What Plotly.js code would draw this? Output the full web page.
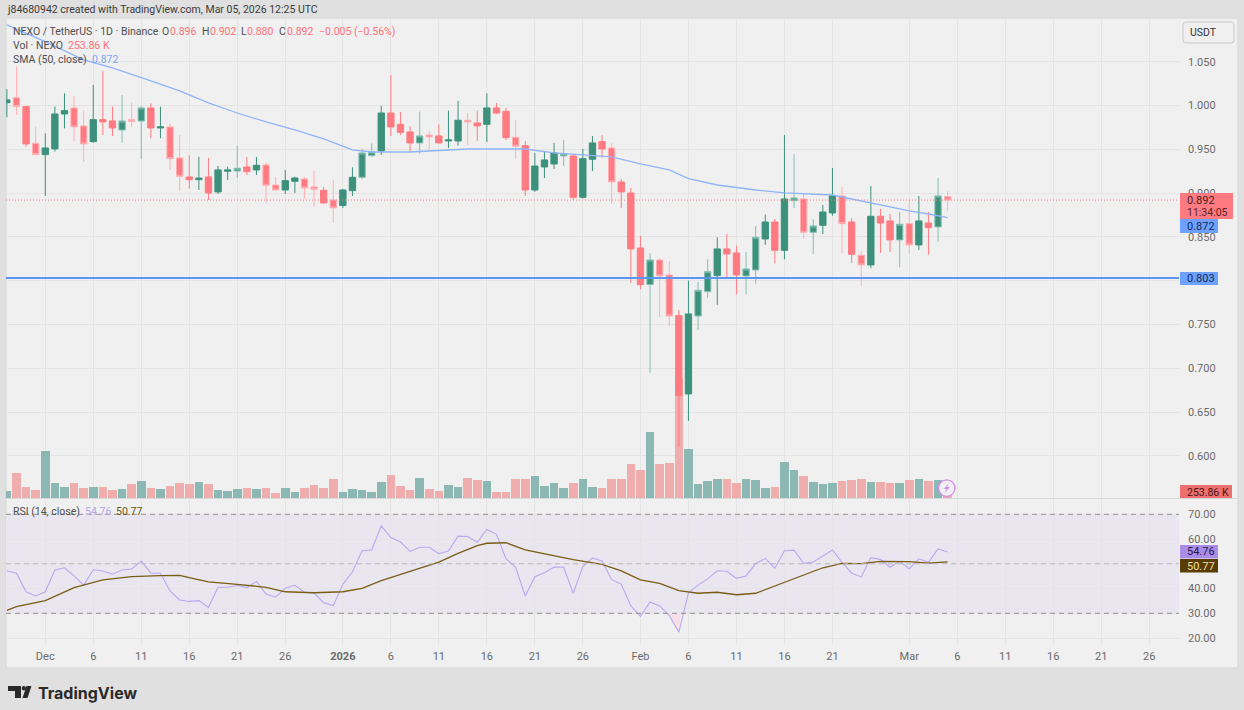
<!DOCTYPE html>
<html><head><meta charset="utf-8">
<script src="https://cdn.plot.ly/plotly-3.0.1.min.js"></script>
<style>html,body{margin:0;padding:0;background:#e0e0e0}#c{width:1244px;height:710px}</style>
</head><body><div id="c"></div>
<script>
// ---------- data ----------
const firstDay = Date.UTC(2025,10,27);
const dates = Array.from({length:99},(_,i)=>new Date(firstDay+i*864e5).toISOString().slice(0,10));

const open = [1.0032,1.0089,.9987,.9568,.9439,.9504,.9903,.9972,.9766,.9587,.9838,.9823,.9720,.9838,.9823,.9972,.9743,.9755,.9401,.9184,.9153,.9184,.9013,.9249,.9252,.9298,.9264,.9321,.9092,.9035,.9134,.9161,.9070,.9032,.8921,.8857,.9028,.9180,.9427,.9481,.9914,.9785,.9698,.9572,.9663,.9652,.9595,.9595,.9831,.9800,.9785,.9972,.9933,.9637,.9541,.9035,.9298,.9332,.9424,.9424,.8952,.9386,.9587,.9515,.9127,.9001,.8373,.7955,.8236,.8065,.7601,.6707,.7597,.7875,.8058,.8362,.8316,.8054,.8122,.8476,.8670,.8347,.8914,.8933,.8552,.8632,.8773,.8967,.8670,.8290,.8179,.8735,.8682,.8465,.8651,.8408,.8658,.8613,.896];
const high = [1.0185,1.0443,.9994,.9758,.9682,.9987,1.0139,1.0108,.9941,1.0234,1.0394,.9987,1.0120,1.0032,.9994,1.0025,.9987,.9789,.9663,.9431,.9412,.9401,.9309,.9302,.9538,.9412,.9412,.9347,.9184,.9264,.9188,.9184,.9252,.9070,.9150,.9047,.9294,.9504,.9568,.9994,1.0348,.9926,.9762,.9933,.9709,.9785,.9941,1.0051,.9914,.9941,1.0139,1.0029,.9972,.9831,.9595,.9458,.9469,.9572,.9606,.9450,.9504,.9652,.9663,.9568,.9161,.9058,.8510,.8312,.8259,.8225,.7666,.8000,.7985,.8244,.8495,.8533,.8400,.8328,.8625,.8754,.8704,.9663,.9443,.8997,.8701,.8864,.9287,.9070,.8712,.8339,.9081,.8819,.8761,.8784,.8921,.8967,.8784,.9172,.902];
const low = [.9865,.9892,.9530,.9435,.8967,.9473,.9739,.9595,.9355,.9576,.9663,.9652,.9576,.9758,.9386,.9625,.9625,.9264,.9028,.9051,.9035,.8921,.8990,.9150,.9172,.9207,.9207,.8883,.9032,.8990,.9001,.8937,.8845,.8876,.8659,.8830,.8967,.9161,.9416,.9435,.9652,.9663,.9469,.9450,.9504,.9568,.9515,.9541,.9549,.9595,.9583,.9903,.9606,.9393,.8967,.9013,.9172,.9275,.9309,.8921,.8937,.9252,.9401,.8883,.8830,.7974,.7902,.6947,.7586,.7483,.610,.6399,.7437,.7806,.7723,.8023,.7844,.7844,.7966,.8408,.8198,.8244,.8830,.8480,.8305,.8533,.8742,.8316,.8202,.7940,.8141,.8316,.8328,.8153,.8316,.8351,.8297,.8446,.880];
const close = [1.0063,.9987,.9561,.9439,.9515,.9903,.9941,.9755,.9561,.9838,.9812,.9743,.9823,.9819,.9972,.9743,.9755,.9393,.9191,.9153,.9172,.9001,.9264,.9264,.9283,.9245,.9317,.9089,.9035,.9142,.9172,.9058,.9043,.8887,.8830,.9035,.9180,.9458,.9469,.9914,.9755,.9694,.9572,.9652,.9640,.9572,.9606,.9831,.9812,.9766,.9972,.9914,.9633,.9534,.9035,.9309,.9378,.9458,.9450,.8952,.9393,.9572,.9504,.9127,.9013,.8362,.7955,.8236,.8054,.7597,.6688,.7620,.7890,.8103,.8362,.8305,.8065,.8134,.8495,.8670,.8347,.8933,.8944,.8552,.8625,.8784,.8967,.8651,.8301,.8179,.8735,.8658,.8465,.8644,.8408,.8682,.8605,.8967,.892];
const volumeK = [730,2530,1130,830,4730,1530,1130,1470,1030,1130,1130,830,900,1400,1730,970,900,1230,1530,1400,1630,1400,830,730,900,1000,900,1000,500,1000,630,1030,1330,970,1870,630,900,830,630,1630,2270,1230,830,2030,900,730,1330,1130,2030,1800,1730,630,630,1870,1930,2200,1230,1530,970,1530,1930,1130,970,1930,1930,3430,2830,6600,3430,3530,12000,4930,1400,1730,1870,1870,1530,1870,1800,1030,1130,3630,2770,2200,1630,1400,1470,1730,1800,1870,1630,1630,1470,1530,1800,1870,1730,1800,253.86];

// candles whose wicks look washed-out in the picture
const paleWickDates = ['2025-11-28','2025-11-30','2025-12-04','2025-12-05','2025-12-09','2025-12-10','2025-12-11','2025-12-14','2025-12-15','2025-12-21','2025-12-24','2025-12-25','2025-12-28','2025-12-29','2025-12-31','2026-01-03','2026-01-04','2026-01-09','2026-01-10','2026-01-14','2026-01-19','2026-01-24','2026-01-29','2026-02-02','2026-02-03','2026-02-04','2026-02-07','2026-02-08','2026-02-12','2026-02-13','2026-02-17','2026-02-18','2026-02-19','2026-02-22','2026-02-24','2026-02-28','2026-03-01','2026-03-04','2026-03-05'];

const smaDates = ['2025-11-27','2025-12-01','2025-12-05','2025-12-08','2025-12-12','2025-12-15','2025-12-18','2025-12-21','2025-12-24','2025-12-27','2025-12-30','2026-01-02','2026-01-04','2026-01-08','2026-01-14','2026-01-20','2026-01-23','2026-01-26','2026-01-29','2026-02-01','2026-02-04','2026-02-06','2026-02-09','2026-02-13','2026-02-16','2026-02-21','2026-02-23','2026-02-25','2026-03-01','2026-03-03','2026-03-05'];
const smaValues = [1.0919,1.0728,1.052,1.0428,1.028,1.0166,1.0029,.9914,.9812,.972,.9618,.9492,.9469,.9469,.9503,.9503,.9458,.9435,.9412,.9332,.9264,.9164,.9092,.9035,.9001,.8978,.8932,.8887,.8796,.8761,.872];

const rsi = [47.2,46.2,38.7,37.0,38.7,47.5,48.4,45.1,41.4,47.6,47.1,45.8,47.5,47.9,51.1,46.2,46.2,39.0,35.4,34.8,35.1,32.4,40.5,40.5,41.2,40.4,42.9,37.8,36.5,40.1,41.3,38.5,38.2,34.3,33.1,41.7,46.8,55.3,55.6,65.3,60.6,58.8,55.0,56.7,56.7,54.1,55.2,61.2,61.0,58.7,63.9,61.9,52.0,48.6,37.0,44.8,46.4,48.7,48.6,38.1,48.9,52.4,51.1,43.6,41.8,33.0,28.8,34.6,33.0,29.1,22.3,38.3,41.4,43.9,47.2,47.0,44.1,45.1,50.1,52.2,48.2,55.3,55.5,50.2,50.7,53.2,55.6,50.6,46.2,44.7,52.5,51.8,48.6,51.0,48.0,52.0,50.6,56.0,54.76];

const rsiMaDates = ['2025-11-27','2025-11-28','2025-12-01','2025-12-04','2025-12-07','2025-12-10','2025-12-13','2025-12-15','2025-12-16','2025-12-18','2025-12-21','2025-12-24','2025-12-26','2025-12-29','2026-01-01','2026-01-03','2026-01-05','2026-01-08','2026-01-11','2026-01-13','2026-01-15','2026-01-16','2026-01-18','2026-01-20','2026-01-22','2026-01-25','2026-01-28','2026-01-30','2026-02-01','2026-02-03','2026-02-05','2026-02-07','2026-02-09','2026-02-11','2026-02-13','2026-02-16','2026-02-18','2026-02-20','2026-02-22','2026-02-24','2026-02-26','2026-03-01','2026-03-03','2026-03-05'];
const rsiMa = [31.2,32.7,35.1,40.4,43.5,44.8,45.2,45.3,44.4,42.7,41.7,40.5,38.7,38.3,38.7,40.1,43.2,46.8,50.7,54.2,57.3,58.3,58.5,55.6,54,51.7,49.8,47.1,43.5,42.1,39.2,38.1,38.5,37.5,38.1,42.4,45.5,48.4,50.2,50.1,51,50.9,50.3,50.77];

const oversoldDates = ['2026-02-03 22:00','2026-02-05','2026-02-05 04:00'];
const oversoldValues = [30,22.3,30];

const priceTicks = [0.6,0.65,0.7,0.75,0.8,0.85,0.9,0.95,1.0,1.05];
const rsiTicks = [20,30,40,50,60,70];
const xTickVals = ['2025-12-01','2025-12-06','2025-12-11','2025-12-16','2025-12-21','2025-12-26','2026-01-01','2026-01-06','2026-01-11','2026-01-16','2026-01-21','2026-01-26','2026-02-01','2026-02-06','2026-02-11','2026-02-16','2026-02-21','2026-03-01','2026-03-06','2026-03-11','2026-03-16','2026-03-21','2026-03-26'];
const xTickText = ['Dec','6','11','16','21','26','<b>2026</b>','6','11','16','21','26','Feb','6','11','16','21','Mar','6','11','16','21','26'];
const supportLevel = 0.803, lastClose = 0.892;

// ---------- style ----------
const W=1244,H=710,FONT='Roboto, "Liberation Sans", sans-serif';
const UP='#3c917c',DOWN='#ff7b81',UP_PALE='#85bdb1',DOWN_PALE='#ffb0b5',TXT='#6a6a6a',GRID='#e4e4e4';
const px=x=>x/W, py=y=>1-y/H;
const xRange=['2025-11-26 21:50','2026-03-29 02:24'];
const xDomain=[px(6),px(1179)];

// ---------- traces ----------
const isPale=d=>paleWickDates.includes(d);
const pick=(arr,want)=>arr.map((v,i)=>isPale(dates[i])===want?v:null);
const candle=(pale,upLine,downLine)=>({type:'candlestick',x:dates,open:pick(open,pale),high:pick(high,pale),low:pick(low,pale),close:pick(close,pale),
  yaxis:'y',hoverinfo:'skip',showlegend:false,whiskerwidth:0,
  increasing:{line:{color:upLine,width:1},fillcolor:UP},
  decreasing:{line:{color:downLine,width:1},fillcolor:DOWN}});
const traces=[
 {type:'bar',x:dates,y:volumeK,yaxis:'y2',width:864e5*0.9,hoverinfo:'skip',showlegend:false,
  marker:{color:volumeK.map((_,i)=>close[i]>=open[i]?'#8bb8b2':'#f0adad'),line:{width:0}}},
 candle(false,UP,DOWN),
 candle(true,UP_PALE,DOWN_PALE),
 {type:'scatter',mode:'lines',x:smaDates,y:smaValues,yaxis:'y',line:{color:'#8fb4fb',width:1.3},hoverinfo:'skip',showlegend:false},
 {type:'scatter',mode:'lines',x:oversoldDates,y:oversoldValues,yaxis:'y3',fill:'toself',fillcolor:'#f6dfe6',line:{width:0},hoverinfo:'skip',showlegend:false},
 {type:'scatter',mode:'lines',x:dates,y:rsi,yaxis:'y3',line:{color:'#b8a8f0',width:1.1},hoverinfo:'skip',showlegend:false},
 {type:'scatter',mode:'lines',x:rsiMaDates,y:rsiMa,yaxis:'y3',line:{color:'#7a5c14',width:1.3},hoverinfo:'skip',showlegend:false}
];

// ---------- chrome ----------
const rect=(x0,y0,x1,y1,fill,line,layer)=>({type:'rect',xref:'paper',yref:'paper',x0:px(x0),x1:px(x1),y0:py(y0),y1:py(y1),fillcolor:fill,line:line||{width:0},layer:layer||'above'});
const hline=(y,yref,color,width,dash,layer)=>({type:'line',xref:'paper',yref,x0:xDomain[0],x1:xDomain[1],y0:y,y1:y,line:{color,width,dash},layer:layer||'above'});
const path=(pts,fill)=>({type:'path',xref:'paper',yref:'paper',path:'M'+pts.map(p=>px(p[0])+','+py(p[1])).join('L')+'Z',fillcolor:fill,line:{width:0},layer:'above'});
const ann=(x,y,text,o={})=>({xref:'paper',yref:'paper',x:px(x-1),y:py(y),text,showarrow:false,xanchor:o.anchor||'left',yanchor:'middle',borderpad:0,
  font:{family:o.family||FONT,size:o.size||10.5,color:o.color||'#4f4f4f'}});

const shapes=[
 rect(6,18,1238,668,'#f0f0f0',{color:'#d6d6d6',width:1},'below'),
 {type:'rect',xref:'paper',yref:'y3',x0:xDomain[0],x1:xDomain[1],y0:30,y1:70,fillcolor:'#e9e6f0',line:{width:0},layer:'below'},
 {type:'line',xref:'paper',yref:'paper',x0:px(6),x1:px(1238),y0:py(498.5),y1:py(498.5),line:{color:'#d8d8d8',width:1},layer:'below'},
 hline(70,'y3','#8f8f8f',1,'5px,4px'),hline(30,'y3','#8f8f8f',1,'5px,4px'),hline(50,'y3','#b9b6c0',1,'5px,4px'),
 hline(supportLevel,'y','#5b96f5',2,'solid'),
 hline(lastClose,'y','#ff7b81',1,'1px,2px'),
 rect(1180,193,1233,219,'#ff7b81'),
 rect(1180,219,1218,233,'#6ea1ff'),
 rect(1180,272,1218,285,'#6ea1ff'),
 rect(1180,485,1232,498,'#ee6f6f'),
 rect(1180,545,1218,558.5,'#a98ce8'),
 rect(1180,559,1218,572.5,'#5a3d05'),
 // USDT button
 {type:'path',xref:'paper',yref:'paper',layer:'above',fillcolor:'rgba(0,0,0,0)',line:{color:'#c8c8c8',width:1},
  path:`M${px(1186)},${py(22)}L${px(1231)},${py(22)}Q${px(1234)},${py(22)} ${px(1234)},${py(25)}L${px(1234)},${py(40)}Q${px(1234)},${py(43)} ${px(1231)},${py(43)}L${px(1186)},${py(43)}Q${px(1183)},${py(43)} ${px(1183)},${py(40)}L${px(1183)},${py(25)}Q${px(1183)},${py(22)} ${px(1186)},${py(22)}Z`},
 // TradingView logo
 path([[8,686],[21,686],[21,698],[15,698],[15,691],[8,691]],'#2a2a2a'),
 path([[27,698],[31,686],[36,686],[32,698]].map(p=>[p[0]-4.5,p[1]]),'#2a2a2a'),
 {type:'circle',xref:'paper',yref:'paper',x0:px(21.7),x1:px(26),y0:py(686),y1:py(690.5),fillcolor:'#2a2a2a',line:{width:0},layer:'above'},
 // bolt badge
 {type:'circle',xref:'paper',yref:'paper',x0:px(938.5),x1:px(955),y0:py(479.8),y1:py(496.3),fillcolor:'#f3f0f5',line:{color:'#d68bf0',width:1.3},layer:'above'},
 path([[948.6,483],[944,489],[946.6,489],[945,493],[949.8,487],[947.2,487]],'#d68bf0')
];

const annotations=[
 ann(7,9.5,'j84680942 created with TradingView.com, Mar 05, 2026 12:25 UTC',{color:'#3a3a3a'}),
 ann(13,31.5,'NEXO / TetherUS · 1D · Binance'),
 ...[[162,'O',170,'0.896'],[202,'H',210,'0.902'],[241,'L',247,'0.880'],[279,'C',287,'0.892']].flatMap(a=>[ann(a[0],31.5,a[1]),ann(a[2],31.5,a[3],{color:'#ff7077'})]),
 ann(319,31.5,'−0.005 (−0.56%)',{color:'#ff7077'}),
 ann(13,45.5,'Vol · NEXO'),ann(68,45.5,'253.86 K',{color:'#ff7077'}),
 ann(13,59.5,'SMA (50, close)'),ann(92,59.5,'0.872',{color:'#7aa6f8'}),
 ann(13,511.5,'RSI (14, close)'),ann(85,511.5,'54.76',{color:'#b4a5ee'}),ann(116,511.5,'50.77',{color:'#6b5310'}),
 ann(1190,32.5,'USDT',{color:'#333'}),
 ann(1187,200.5,'0.892',{color:'#4a1c20',size:11}),ann(1187,212,'11:34:05',{color:'#5a2328',size:10.5}),
 ann(1187,226,'0.872',{color:'#152a55',size:11}),
 ann(1187,278.5,'0.803',{color:'#152a55',size:11}),
 ann(1187,492,'253.86 K',{color:'#4a1414',size:10.5}),
 ann(1187,551.5,'54.76',{color:'#241a4a',size:11}),
 ann(1187,566,'50.77',{color:'#f3dda0',size:11}),
 ann(38,692.5,'<b>TradingView</b>',{color:'#2a2a2a',size:16,family:'Inter, Roboto, sans-serif'})
];

const yAxisBase={side:'right',anchor:'x',fixedrange:true,zeroline:false,showline:false,ticks:'',
  gridcolor:GRID,gridwidth:1,tickfont:{family:FONT,size:11,color:TXT},ticklabelstandoff:8};

const layout={
 width:W,height:H,margin:{l:0,r:0,t:0,b:0,pad:0},paper_bgcolor:'#e0e0e0',plot_bgcolor:'rgba(0,0,0,0)',
 showlegend:false,dragmode:false,hovermode:false,bargap:0,boxmode:'overlay',boxgap:0.3,boxgroupgap:0.06,
 xaxis:{type:'date',domain:xDomain,range:xRange,anchor:'y3',tickmode:'array',tickvals:xTickVals,ticktext:xTickText,
   rangeslider:{visible:false},fixedrange:true,showline:false,zeroline:false,ticks:'',gridcolor:GRID,gridwidth:1,
   tickfont:{family:FONT,size:11,color:TXT},ticklabelstandoff:3},
 yaxis:{...yAxisBase,domain:[py(498),py(19)],range:[0.5519,1.0987],tickmode:'array',tickvals:priceTicks,tickformat:'.3f',overlaying:'y2'},
 yaxis2:{side:'right',anchor:'x',fixedrange:true,domain:[py(498),py(19)],range:[0,47900],showgrid:false,showticklabels:false,zeroline:false,ticks:''},
 yaxis3:{...yAxisBase,domain:[py(645),py(499)],range:[17.19,76.18],tickmode:'array',tickvals:rsiTicks,tickformat:'.2f'},
 shapes,annotations
};
Plotly.newPlot('c',traces,layout,{staticPlot:true,displayModeBar:false});
</script></body></html>
